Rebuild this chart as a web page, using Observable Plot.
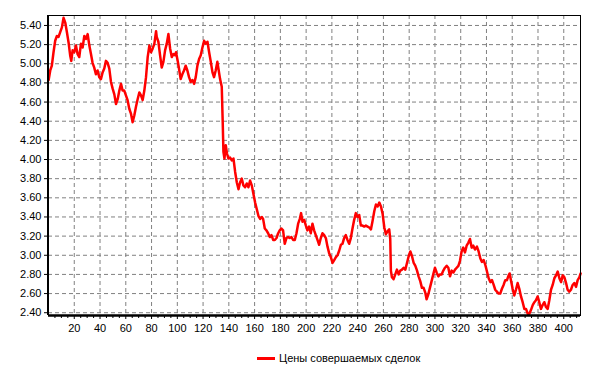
<!DOCTYPE html>
<html><head><meta charset="utf-8">
<script src="https://cdn.jsdelivr.net/npm/d3@7"></script>
<script src="https://cdn.jsdelivr.net/npm/@observablehq/plot@0.6"></script>
<style>
body{margin:0;background:#fff;font-family:"Liberation Sans",Arial,sans-serif;}
#chart{position:absolute;left:0;top:0;}
#legend{position:absolute;left:257px;top:350px;height:16px;font-size:11px;display:flex;align-items:center;color:#000;white-space:nowrap}
#legend .sw{display:inline-block;width:18px;height:3px;background:#ff0000;margin-right:4px}
</style></head><body><div id="chart"></div><div id="legend"><span class="sw"></span><span id="lt"></span></div>
<script>
const days = [0.1,1.35,2.6,3.9,5.2,6.5,7.8,9.1,10.4,11.7,13.0,14.3,15.6,16.9,17.7,18.7,20.0,21.3,22.6,23.9,25.2,26.5,27.8,29.1,30.4,31.7,33.0,34.2,35.5,36.8,38.1,39.4,40.7,42.0,43.3,44.6,45.9,47.2,48.5,49.8,51.1,52.4,53.7,55.0,56.3,57.5,58.8,60.1,61.4,62.7,64.0,65.3,66.6,67.9,69.2,70.5,71.8,73.1,74.4,75.7,77.0,78.3,79.6,80.9,82.2,83.5,
84.0,85.3,86.6,87.9,89.2,90.5,91.8,93.1,94.4,95.7,97.0,98.2,99.0,100.3,101.3,102.6,103.9,105.2,106.5,107.8,109.1,110.4,111.7,113.0,114.3,115.6,116.9,118.2,119.5,120.8,122.1,123.4,124.7,126.0,127.3,128.5,129.8,131.1,131.9,133.2,134.5,135.3,135.8,136.6,137.6,138.6,139.7,141.0,142.3,143.6,144.9,146.2,147.5,148.7,150.0,151.3,152.6,153.9,155.2,156.5,157.8,159.1,160.4,161.7,163.0,164.3,165.6,
166.6,167.9,169.2,170.5,171.8,173.1,174.4,175.7,177.0,178.3,179.5,180.8,182.1,183.4,184.7,186.0,187.3,188.6,189.9,191.2,192.5,193.8,195.1,196.1,197.2,198.5,199.8,201.0,202.3,203.6,204.9,206.2,207.5,208.8,210.1,211.4,212.7,214.0,215.3,216.6,217.9,219.2,220.5,221.8,223.1,224.4,225.7,227.0,228.2,229.5,230.8,232.1,233.4,234.7,236.0,237.3,238.6,239.9,241.2,242.5,243.8,245.1,246.4,247.7,
249.0,250.3,251.6,252.9,254.2,255.5,256.8,258.1,259.4,260.7,261.9,263.2,264.5,265.3,265.8,266.6,267.9,269.2,270.5,271.8,273.1,274.4,275.7,277.0,278.3,279.6,280.9,282.2,283.5,284.8,286.1,287.3,288.6,289.9,291.2,292.5,293.5,294.8,296.1,297.4,298.7,300.0,301.3,302.6,303.9,305.2,306.5,307.8,309.1,310.4,311.7,313.0,314.3,315.6,316.9,318.2,319.4,320.7,322.0,323.3,324.6,325.9,327.2,328.5,329.8,331.1,
332.6,333.9,335.2,336.5,337.8,339.1,340.4,341.7,343.0,344.3,345.6,346.8,348.1,349.4,350.7,352.0,353.3,354.6,355.9,357.2,358.0,359.0,360.3,361.6,362.9,364.2,365.5,366.8,368.1,369.4,370.7,372.0,373.3,374.6,375.9,377.2,378.4,379.7,381.0,382.3,383.6,384.9,386.2,387.5,388.8,390.1,391.4,392.7,394.0,395.3,396.6,397.9,399.2,400.5,401.8,403.0,404.3,405.6,406.9,408.2,409.5,410.8,412.1,413.1];
const prices = [4.83,4.93,4.98,5.12,5.24,5.29,5.28,5.33,5.38,5.48,5.43,5.33,5.22,5.08,5.03,5.14,5.12,5.19,5.10,5.07,5.21,5.17,5.29,5.26,5.31,5.19,5.10,5.01,4.96,4.89,4.93,4.86,4.84,4.91,4.95,5.03,5.01,4.95,4.81,4.74,4.68,4.58,4.63,4.72,4.79,4.72,4.72,4.67,4.62,4.53,4.48,4.39,4.46,4.55,4.63,4.70,4.67,4.62,4.72,4.86,5.07,5.19,5.12,5.16,5.21,5.34,
5.28,5.23,5.09,4.96,5.02,5.14,5.21,5.31,5.16,5.07,5.10,5.09,5.12,5.03,4.95,4.84,4.89,4.93,4.98,4.93,4.86,4.81,4.83,4.79,4.86,4.98,5.05,5.09,5.17,5.24,5.21,5.23,5.12,5.02,4.91,4.86,4.93,5.02,4.95,4.84,4.76,4.36,4.08,4.01,4.15,4.06,4.01,4.02,3.99,4.01,3.87,3.76,3.69,3.76,3.80,3.73,3.71,3.75,3.71,3.78,3.73,3.64,3.55,3.48,3.41,3.38,3.40,
3.38,3.28,3.26,3.23,3.19,3.21,3.16,3.16,3.18,3.23,3.26,3.28,3.26,3.12,3.18,3.19,3.18,3.19,3.16,3.16,3.23,3.33,3.38,3.44,3.35,3.37,3.31,3.26,3.30,3.23,3.33,3.26,3.21,3.16,3.11,3.18,3.23,3.21,3.18,3.09,3.02,2.98,2.92,2.95,2.98,3.00,3.05,3.11,3.12,3.18,3.21,3.16,3.12,3.18,3.28,3.37,3.44,3.40,3.42,3.31,3.31,3.30,3.31,3.30,
3.29,3.27,3.36,3.46,3.53,3.51,3.55,3.51,3.43,3.29,3.22,3.25,3.27,3.17,2.84,2.77,2.75,2.80,2.85,2.80,2.84,2.85,2.87,2.85,2.92,2.99,3.04,2.99,2.92,2.89,2.84,2.78,2.73,2.66,2.66,2.61,2.54,2.59,2.66,2.73,2.80,2.87,2.82,2.78,2.80,2.80,2.84,2.87,2.89,2.87,2.78,2.84,2.82,2.85,2.87,2.89,2.94,3.04,3.08,3.03,3.10,3.13,3.17,3.08,3.10,3.06,
3.09,3.04,2.97,2.93,2.95,2.90,2.83,2.76,2.72,2.74,2.69,2.64,2.62,2.60,2.60,2.65,2.69,2.74,2.74,2.79,2.81,2.74,2.65,2.58,2.64,2.71,2.65,2.57,2.51,2.44,2.44,2.39,2.39,2.43,2.48,2.51,2.53,2.57,2.51,2.44,2.48,2.51,2.46,2.44,2.53,2.64,2.69,2.76,2.79,2.83,2.76,2.72,2.79,2.77,2.71,2.64,2.62,2.64,2.69,2.71,2.67,2.74,2.77,2.81];
const yTicks = [2.4,2.6,2.8,3.0,3.2,3.4,3.6,3.8,4.0,4.2,4.4,4.6,4.8,5.0,5.2,5.4];
const xTicks = [20,40,60,80,100,120,140,160,180,200,220,240,260,280,300,320,340,360,380,400];
const xMinorTicks = [5,10,15,25,30,35,45,50,55,65,70,75,85,90,95,105,110,115,125,130,135,145,150,155,165,170,175,185,190,195,205,210,215,225,230,235,245,250,255,265,270,275,285,290,295,305,310,315,325,330,335,345,350,355,365,370,375,385,390,395,405,410];
const seriesName = "Цены совершаемых сделок";

const data = days.map((d, i) => ({day: d, price: prices[i]}));
const yMin = 2.371, yMax = 5.504;
const chart = Plot.plot({
  width: 598, height: 340,
  marginLeft: 48, marginRight: 18, marginTop: 15, marginBottom: 25,
  style: {fontFamily: "Liberation Sans, Arial, sans-serif", fontSize: "11px", color: "#000", background: "#fff", overflow: "visible"},
  x: {domain: [0, 413]},
  y: {domain: [yMin, yMax]},
  marks: [
    Plot.gridX(xTicks, {stroke: "#808080", strokeOpacity: 1, strokeDasharray: "4,3"}),
    Plot.gridY(yTicks, {stroke: "#808080", strokeOpacity: 1, strokeDasharray: "4,3"}),
    Plot.line(data, {x: "day", y: "price", stroke: "#ff0000", strokeWidth: 2.5}),
    Plot.frame({stroke: "#000", strokeWidth: 1}),
    Plot.ruleX([0], {stroke: "#000", strokeWidth: 2, dx: -0.5}),
    Plot.ruleY([yMin], {stroke: "#000", strokeWidth: 2.5}),
    Plot.axisY(yTicks, {tickFormat: d3.format(".2f"), tickSize: 4, tickPadding: 3, label: null, fontSize: 11, fill: "#000"}),
    Plot.axisX(xMinorTicks, {tickSize: 3, tickFormat: () => "", label: null, stroke: "#000"}),
    Plot.axisX(xTicks, {tickSize: 4, tickPadding: 5, label: null, fontSize: 11, fill: "#000", stroke: "#000"})
  ]
});
document.getElementById("chart").appendChild(chart);
document.getElementById("lt").textContent = seriesName;
</script></body></html>
